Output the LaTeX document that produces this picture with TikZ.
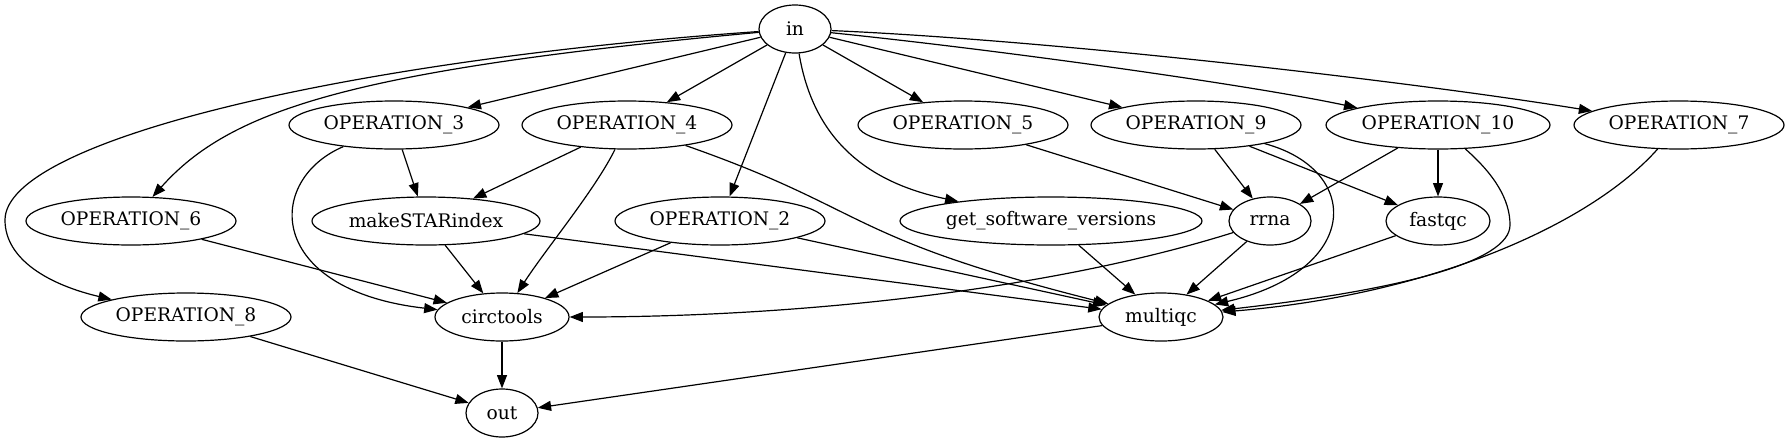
\documentclass[tikz,border=0pt]{standalone}
\usepackage{fontspec}
\setmainfont{DejaVu Serif}
\usetikzlibrary{shapes.geometric,arrows.meta}

\begin{document}
\begin{tikzpicture}[x=0.75pt, y=-0.75pt, line width=0.9pt,
    every node/.style={draw, ellipse, inner sep=0pt, minimum height=36pt, font=\fontsize{14}{17}\selectfont},
    op/.style={minimum width=157.5pt},
    >={Triangle[length=10pt, width=7.5pt]}]
    \useasboundingbox (0, 0) rectangle (1790, 443);

    \node [minimum width=54pt] (in) at (795, 29) {in};

    \node [op] (op3) at (394, 125) {OPERATION\_3};
    \node [op] (op4) at (627, 125) {OPERATION\_4};
    \node [op] (op5) at (963, 125) {OPERATION\_5};
    \node [op] (op9) at (1196, 125) {OPERATION\_9};
    \node [minimum width=168pt] (op10) at (1438, 125) {OPERATION\_10};
    \node [op] (op7) at (1679, 125) {OPERATION\_7};

    \node [op] (op6) at (131, 221) {OPERATION\_6};
    \node [minimum width=171pt] (star) at (426, 221) {makeSTARindex};
    \node [op] (op2) at (720, 221) {OPERATION\_2};
    \node [minimum width=226.5pt] (versions) at (1051, 221) {get\_software\_versions};
    \node [minimum width=61.5pt] (rrna) at (1270, 221) {rrna};
    \node [minimum width=78pt] (fastqc) at (1438, 221) {fastqc};

    \node [op] (op8) at (186, 317) {OPERATION\_8};
    \node [minimum width=100.5pt] (circ) at (502, 317) {circtools};
    \node [minimum width=93pt] (multiqc) at (1161, 317) {multiqc};

    \node [minimum width=54pt] (out) at (502, 413) {out};

    \draw [->] (in) .. controls (350, 60) and (5, 140) .. (5, 220)
        .. controls (5, 260) and (50, 285) .. (op8);
    \draw [->] (in) .. controls (350, 70) and (230, 110) .. (op6);
    \draw [->] (in) -- (op3);
    \draw [->] (in) -- (op4);
    \draw [->] (in) -- (op2);
    \draw [->] (in) .. controls (815, 150) and (880, 185) .. (versions);
    \draw [->] (in) -- (op5);
    \draw [->] (in) -- (op9);
    \draw [->] (in) .. controls (1000, 50) and (1250, 85) .. (op10);
    \draw [->] (in) .. controls (1050, 40) and (1400, 80) .. (op7);

    \draw [->] (op3) -- (star);
    \draw [->] (op3) .. controls (265, 180) and (265, 290) .. (circ);
    \draw [->] (op4) -- (star);
    \draw [->] (op4) .. controls (595, 190) and (545, 250) .. (circ);
    \draw [->] (op4) .. controls (870, 210) and (843, 237) .. (multiqc);
    \draw [->] (op5) -- (rrna);
    \draw [->] (op9) -- (rrna);
    \draw [->] (op9) -- (fastqc);
    \draw [->] (op9) .. controls (1362, 170) and (1362, 270) .. (multiqc);
    \draw [->] (op10) -- (rrna);
    \draw [->] (op10) -- (fastqc);
    \draw [->] (op10) .. controls (1495, 175) and (1510, 200) .. (1510, 225)
        .. controls (1510, 262) and (1400, 290) .. (multiqc);
    \draw [->] (op7) .. controls (1590, 225) and (1430, 295) .. (multiqc);

    \draw [->] (op6) -- (circ);
    \draw [->] (star) -- (circ);
    \draw [->] (star) -- (multiqc);
    \draw [->] (op2) -- (circ);
    \draw [->] (op2) -- (multiqc);
    \draw [->] (versions) -- (multiqc);
    \draw [->] (rrna) .. controls (1050, 290) and (800, 317) .. (circ);
    \draw [->] (rrna) -- (multiqc);
    \draw [->] (fastqc) -- (multiqc);

    \draw [->] (op8) -- (out);
    \draw [->] (circ) -- (out);
    \draw [->] (multiqc) -- (out);
\end{tikzpicture}
\end{document}
